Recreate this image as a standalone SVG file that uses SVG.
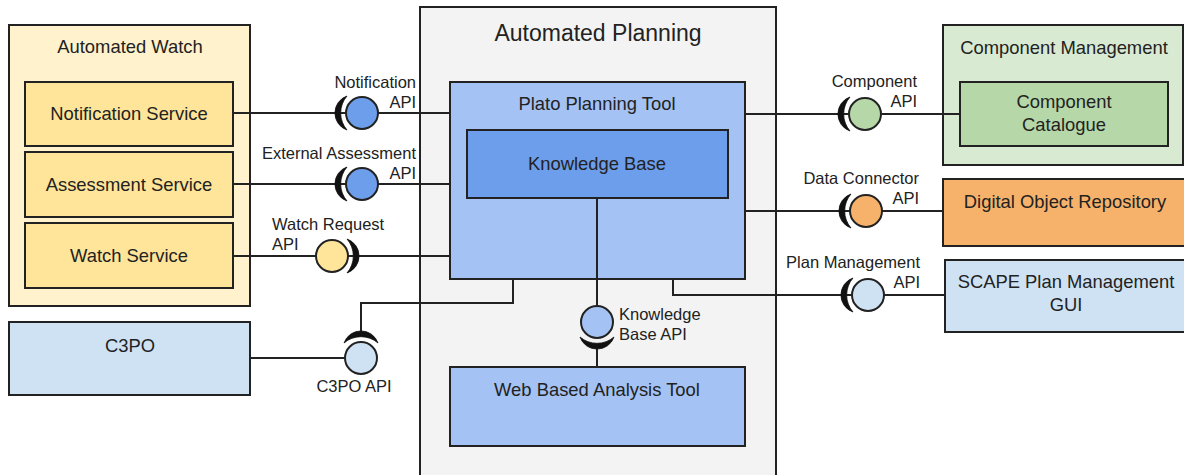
<svg xmlns="http://www.w3.org/2000/svg" xmlns:xlink="http://www.w3.org/1999/xlink" width="1184" height="475" viewBox="0 0 1184 475">
<style>
  .box { stroke: #222; stroke-width: 2; }
  .t { font-family: "Liberation Sans", Arial, sans-serif; font-size: 18.4px; fill: #222; text-anchor: middle; }
  .big { font-size: 23px; }
  .lbl { font-family: "Liberation Sans", Arial, sans-serif; font-size: 16.5px; fill: #222; }
  .end { text-anchor: end; }
  .mid { text-anchor: middle; }
  .wire { fill: none; stroke: #222; stroke-width: 2; }
  .ball { stroke: #222; stroke-width: 2; }
  .sock { fill: #111; stroke: #111; stroke-width: 0.8; stroke-linejoin: round; }
</style>
<defs>
  <path id="sock" d="M -15 -17 A 18 18 0 0 0 -15 17 A 26 26 0 0 1 -15 -17 Z"/>
</defs>
<rect width="1184" height="475" fill="#ffffff"/>

<g id="automated-planning">
  <rect class="box" x="420" y="7" width="356" height="475" fill="#f3f3f3"/>
  <text class="t big" x="598" y="41">Automated Planning</text>
</g>

<g id="automated-watch">
  <rect class="box" x="9" y="25" width="241" height="281" fill="#fff2cc"/>
  <text class="t" x="130" y="53">Automated Watch</text>
</g>
<g id="notification-service">
  <rect class="box" x="25" y="82" width="208" height="64" fill="#ffe599"/>
  <text class="t" x="129" y="120">Notification Service</text>
</g>
<g id="assessment-service">
  <rect class="box" x="25" y="152" width="208" height="65" fill="#ffe599"/>
  <text class="t" x="129" y="191">Assessment Service</text>
</g>
<g id="watch-service">
  <rect class="box" x="25" y="223" width="208" height="65" fill="#ffe599"/>
  <text class="t" x="129" y="262">Watch Service</text>
</g>

<g id="c3po">
  <rect class="box" x="9" y="322" width="241" height="73" fill="#cfe2f3"/>
  <text class="t" x="130" y="352">C3PO</text>
</g>

<g id="plato-planning-tool">
  <rect class="box" x="450" y="82" width="295" height="197" fill="#a4c2f4"/>
  <text class="t" x="597" y="110">Plato Planning Tool</text>
</g>
<g id="knowledge-base">
  <rect class="box" x="467" y="130" width="261" height="68" fill="#6d9eeb"/>
  <text class="t" x="597" y="170">Knowledge Base</text>
</g>
<g id="web-based-analysis-tool">
  <rect class="box" x="450" y="367" width="295" height="79" fill="#a4c2f4"/>
  <text class="t" x="597" y="396">Web Based Analysis Tool</text>
</g>

<g id="component-management">
  <rect class="box" x="943" y="25" width="240" height="140" fill="#d9ead3"/>
  <text class="t" x="1064" y="54">Component Management</text>
</g>
<g id="component-catalogue">
  <rect class="box" x="960" y="82" width="208" height="64" fill="#b6d7a8"/>
  <text class="t" x="1064" y="108">Component</text>
  <text class="t" x="1064" y="131">Catalogue</text>
</g>
<g id="digital-object-repository">
  <rect class="box" x="943" y="179" width="250" height="67" fill="#f6b26b"/>
  <text class="t" x="1065" y="208">Digital Object Repository</text>
</g>
<g id="scape-plan-management-gui">
  <rect class="box" x="945" y="260" width="250" height="72" fill="#cfe2f3"/>
  <text class="t" x="1066" y="288">SCAPE Plan Management</text>
  <text class="t" x="1066" y="311">GUI</text>
</g>

<g id="connectors">
  <path class="wire" d="M233 113 H450"/>
  <path class="wire" d="M233 184 H450"/>
  <path class="wire" d="M233 256 H450"/>
  <path class="wire" d="M250 358 H361 M361 331 V303 H513 V279"/>
  <path class="wire" d="M597 198 V322 M597 349 V367"/>
  <path class="wire" d="M745 114 H960"/>
  <path class="wire" d="M745 211 H943"/>
  <path class="wire" d="M673 279 V295 H945"/>
</g>

<g id="notification-api">
  <use xlink:href="#sock" href="#sock" class="sock" transform="translate(362 113)"/>
  <circle class="ball" cx="362" cy="113" r="16" fill="#6d9eeb"/>
  <text class="lbl end" x="416" y="88">Notification</text>
  <text class="lbl end" x="416" y="108">API</text>
</g>
<g id="external-assessment-api">
  <use xlink:href="#sock" href="#sock" class="sock" transform="translate(362 184)"/>
  <circle class="ball" cx="362" cy="184" r="16" fill="#6d9eeb"/>
  <text class="lbl end" x="416" y="159">External Assessment</text>
  <text class="lbl end" x="416" y="179">API</text>
</g>
<g id="watch-request-api">
  <use xlink:href="#sock" href="#sock" class="sock" transform="translate(332 256) rotate(180)"/>
  <circle class="ball" cx="332" cy="256" r="16" fill="#ffe599"/>
  <text class="lbl" x="272" y="230">Watch Request</text>
  <text class="lbl" x="272" y="250">API</text>
</g>
<g id="c3po-api">
  <use xlink:href="#sock" href="#sock" class="sock" transform="translate(361 358) rotate(90)"/>
  <circle class="ball" cx="361" cy="358" r="16" fill="#cfe2f3"/>
  <text class="lbl mid" x="354" y="392">C3PO API</text>
</g>
<g id="knowledge-base-api">
  <use xlink:href="#sock" href="#sock" class="sock" transform="translate(597 322) rotate(-90)"/>
  <circle class="ball" cx="597" cy="322" r="16" fill="#a4c2f4"/>
  <text class="lbl" x="619" y="320">Knowledge</text>
  <text class="lbl" x="619" y="340">Base API</text>
</g>
<g id="component-api">
  <use xlink:href="#sock" href="#sock" class="sock" transform="translate(865 114)"/>
  <circle class="ball" cx="865" cy="114" r="16" fill="#b6d7a8"/>
  <text class="lbl end" x="917" y="87">Component</text>
  <text class="lbl end" x="917" y="107">API</text>
</g>
<g id="data-connector-api">
  <use xlink:href="#sock" href="#sock" class="sock" transform="translate(866 211)"/>
  <circle class="ball" cx="866" cy="211" r="16" fill="#f6b26b"/>
  <text class="lbl end" x="919" y="184">Data Connector</text>
  <text class="lbl end" x="919" y="204">API</text>
</g>
<g id="plan-management-api">
  <use xlink:href="#sock" href="#sock" class="sock" transform="translate(868 295)"/>
  <circle class="ball" cx="868" cy="295" r="16" fill="#cfe2f3"/>
  <text class="lbl end" x="920" y="268">Plan Management</text>
  <text class="lbl end" x="920" y="288">API</text>
</g>
</svg>
